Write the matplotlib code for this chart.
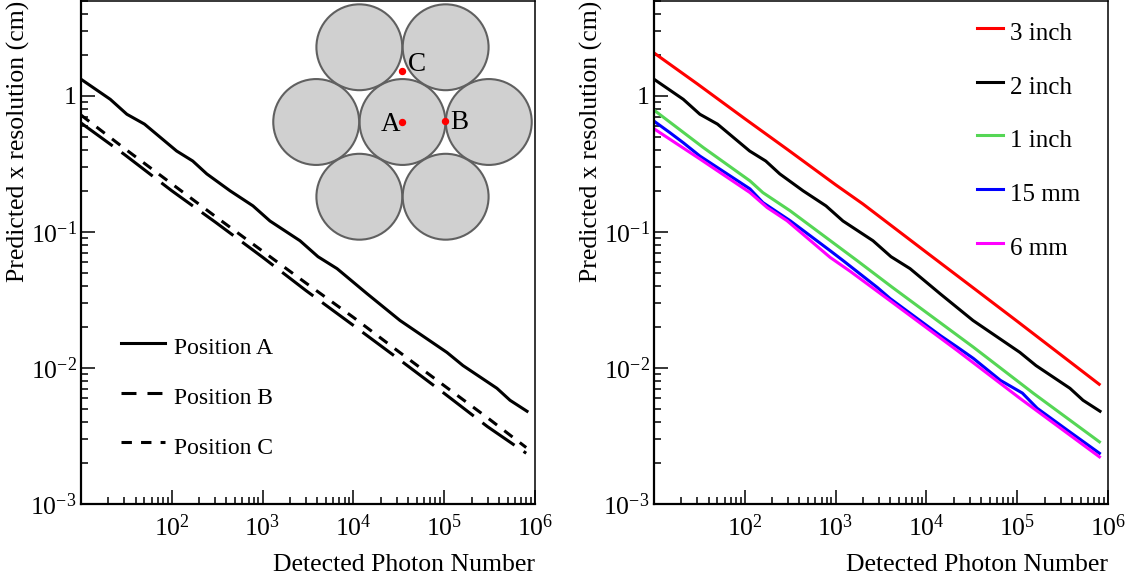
import numpy as np
import matplotlib
matplotlib.use("Agg")
import matplotlib.pyplot as plt
from matplotlib.lines import Line2D
from matplotlib.patches import Circle
from matplotlib.ticker import LogLocator, NullFormatter, FuncFormatter

plt.rcParams['font.family'] = ['Liberation Serif', 'DejaVu Serif']
plt.rcParams['mathtext.fontset'] = 'custom'
plt.rcParams['mathtext.rm'] = 'Liberation Serif'
plt.rcParams['mathtext.default'] = 'rm'

# readings from the picture
x_a = [10, 21, 32, 50, 113, 170, 243, 438, 783, 1205, 2582, 4074, 6607, 14125, 32600, 107000, 161000, 381000, 531000, 817000]
pos_a = [1.32, 0.94, 0.73, 0.618, 0.392, 0.331, 0.266, 0.2, 0.155, 0.12, 0.0859, 0.0656, 0.0536, 0.0351, 0.0223, 0.013, 0.0104, 0.00708, 0.00578, 0.0048]
x_bc = [10, 30, 100, 300, 1000, 3000, 10000, 30000, 100000, 300000, 800000]
pos_b = [0.63, 0.37, 0.2, 0.118, 0.065, 0.037, 0.0205, 0.0119, 0.0065, 0.0037, 0.00236]
pos_c = [0.72, 0.41, 0.225, 0.13, 0.072, 0.042, 0.0235, 0.0135, 0.0074, 0.0043, 0.0026]

x_red = [10, 30, 100, 300, 1000, 2000, 10000, 30000, 100000, 800000]
inch3 = [2.06, 1.22, 0.677, 0.399, 0.2215, 0.16, 0.0706, 0.0405, 0.022, 0.00758]
x_green = [10, 35, 114, 158, 316, 1730, 4207, 32900, 151000, 805000]
inch1 = [0.783, 0.415, 0.2365, 0.194, 0.1425, 0.0613, 0.0391, 0.0142, 0.0065, 0.00286]
x_blue = [10, 15, 21, 32, 114, 158, 316, 871, 1213, 2877, 3990, 14200, 21900, 32900, 65300, 114000, 166000, 358000, 805000]
mm15 = [0.65, 0.534, 0.451, 0.36, 0.2065, 0.164, 0.1205, 0.0726, 0.0613, 0.039, 0.0323, 0.0173, 0.0142, 0.01174, 0.0081, 0.00653, 0.00505, 0.00348, 0.00236]
x_mag = [10, 32, 114, 176, 292, 871, 1449, 4207, 21900, 107000, 805000]
mm6 = [0.571, 0.3426, 0.194, 0.1507, 0.1205, 0.0648, 0.0512, 0.0303, 0.0134, 0.00598, 0.00222]

labels_left = ['Position A', 'Position B', 'Position C']
labels_right = ['3 inch', '2 inch', '1 inch', '15 mm', '6 mm']
colors_right = ['#ff0000', '#000000', '#55d655', '#0000ff', '#ff00ff']

circle_x = [0, 2, -2, -1, 1, -1, 1]
circle_y = [0, 0, 0, 1.732, 1.732, -1.732, -1.732]
dot_x = [0, 0.975, 0]
dot_y = [0, 0.02, 1.176]

W, H = 1134, 579
fig = plt.figure(figsize=(W / 100, H / 100), dpi=100)


def box(l, t, r, b):
    return [l / W, 1 - b / H, (r - l) / W, (b - t) / H]


def style(ax):
    ax.set_xscale('log')
    ax.set_yscale('log')
    ax.set_xlim(10, 1e6)
    ax.set_ylim(1e-3, 5)
    ax.xaxis.set_major_locator(LogLocator(10, numticks=10))
    ax.yaxis.set_major_locator(LogLocator(10, numticks=10))
    ax.xaxis.set_minor_locator(LogLocator(10, subs=np.arange(2, 10), numticks=10))
    ax.yaxis.set_minor_locator(LogLocator(10, subs=np.arange(2, 10), numticks=10))
    ax.xaxis.set_minor_formatter(NullFormatter())
    ax.yaxis.set_minor_formatter(NullFormatter())
    ax.xaxis.set_major_formatter(FuncFormatter(lambda v, p: '' if v < 50 else r'$10^{%d}$' % round(np.log10(v))))
    ax.yaxis.set_major_formatter(FuncFormatter(lambda v, p: '1' if v == 1 else r'$10^{%d}$' % round(np.log10(v))))
    ax.tick_params(which='major', direction='in', length=10, width=1.1, labelsize=18.5)
    ax.tick_params(which='minor', direction='in', length=5, width=1.1)
    ax.tick_params(axis='x', which='major', pad=7.5)
    ax.tick_params(axis='y', which='major', pad=3)
    ax.spines['left'].set_linewidth(1.6)
    ax.spines['bottom'].set_linewidth(1.6)
    ax.spines['top'].set_linewidth(1.1)
    ax.spines['right'].set_linewidth(1.1)
    ax.set_xlabel('Detected Photon Number', fontsize=18.5, loc='right')
    ax.set_ylabel('Predicted x resolution (cm)', fontsize=18.5, loc='top')
    ax.xaxis.set_label_coords(1.0, -0.1)
    ax.yaxis.set_label_coords(-0.112, 1.0)


def key(x0, x1, y, text, fs, gap, drop, **kw):
    # legend rows are placed by pixel, the line sits a little above the text
    fig.add_artist(Line2D([x0 / W, x1 / W], [1 - y / H, 1 - y / H], transform=fig.transFigure, lw=2.2, **kw))
    fig.text((x1 + gap) / W, 1 - (y + drop) / H, text, fontsize=fs, va='baseline', ha='left')


ax1 = fig.add_axes(box(81, 0.5, 535, 504))
style(ax1)
ax1.plot(x_a, pos_a, color='k', lw=2.2)
ax1.plot(x_bc, pos_b, color='k', lw=2.2, dashes=(12.8, 3.6))
ax1.plot(x_bc, pos_c, color='k', lw=2.2, dashes=(3.4, 3.0))
key(121, 165, 343, labels_left[0], 17, 9, 11.5, color='k')
key(121, 165, 392.7, labels_left[1], 17, 9, 11.5, color='k', dashes=(4.9, 3.6))
key(121, 165, 442, labels_left[2], 17, 9, 11.5, color='k', dashes=(3.4, 3.0))

ax2 = fig.add_axes(box(654, 0.5, 1108, 504))
style(ax2)
xs_right = [x_red, x_a, x_green, x_blue, x_mag]
ys_right = [inch3, pos_a, inch1, mm15, mm6]
key_rows = [27.7, 81.7, 135, 189, 243]
for xs, vals, c, lab, row in zip(xs_right, ys_right, colors_right, labels_right, key_rows):
    ax2.plot(xs, vals, color=c, lw=2.2)
    key(977, 1003, row, lab, 18, 7, 12, color=c)

# seven tube layout
cx0, cy0, rad = 402.5, 122, 43.15
ins = fig.add_axes(box(265, 0.5, 533, 245), zorder=3)
ins.patch.set_alpha(0)
ins.axis('off')
ins.set_xlim((265 - cx0) / rad, (533 - cx0) / rad)
ins.set_ylim((cy0 - 245) / rad, (cy0 - 0.5) / rad)
for cx, cy in zip(circle_x, circle_y):
    ins.add_patch(Circle((cx, cy), 0.995, fc='#d0d0d0', ec='#606060', lw=1.5))
ins.plot(dot_x, dot_y, 'o', color='red', ms=4.3, ls='none')
ins.text(-0.06, -0.2, 'A', fontsize=19.5, ha='right', va='baseline')
ins.text(1.1, -0.17, 'B', fontsize=19.5, ha='left', va='baseline')
ins.text(0.127, 1.19, 'C', fontsize=19.5, ha='left', va='baseline')

fig.savefig('out.png', dpi=100)
